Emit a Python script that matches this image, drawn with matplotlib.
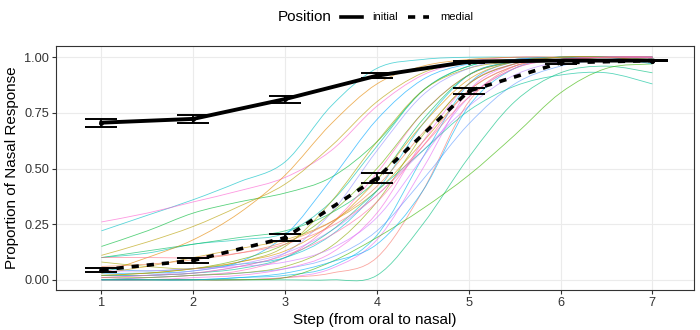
import numpy as np
import matplotlib
matplotlib.use("Agg")
import matplotlib.pyplot as plt
from matplotlib.lines import Line2D
from matplotlib.path import Path
from matplotlib.patches import PathPatch

plt.rcParams['font.family'] = ['Liberation Sans', 'DejaVu Sans']

# mean curves (with error bar half-widths)
steps = [1, 2, 3, 4, 5, 6, 7]
initial_mean = [0.706, 0.723, 0.812, 0.917, 0.980, 0.985, 0.985]
initial_err = [0.018, 0.017, 0.016, 0.011, 0.005, 0.004, 0.004]
medial_mean = [0.045, 0.087, 0.189, 0.457, 0.848, 0.975, 0.985]
medial_err = [0.008, 0.010, 0.016, 0.021, 0.015, 0.006, 0.004]

# individual fitted curves, read at half steps
grid = [1, 1.5, 2, 2.5, 3, 3.5, 4, 4.5, 5, 5.5, 6, 6.5, 7]
speakers = [
    [0.22, 0.29, 0.36, 0.44, 0.53, 0.78, 0.95, 0.99, 1.0, 1.0, 1.0, 1.0, 1.0],
    [0.26, 0.30, 0.35, 0.40, 0.46, 0.58, 0.78, 0.92, 0.98, 1.0, 1.0, 1.0, 1.0],
    [0.15, 0.22, 0.30, 0.35, 0.39, 0.46, 0.62, 0.85, 0.96, 0.99, 1.0, 1.0, 1.0],
    [0.11, 0.17, 0.24, 0.33, 0.43, 0.60, 0.80, 0.93, 0.98, 0.99, 1.0, 1.0, 1.0],
    [0.10, 0.12, 0.16, 0.18, 0.21, 0.35, 0.60, 0.85, 0.96, 0.99, 1.0, 1.0, 1.0],
    [0.10, 0.13, 0.16, 0.19, 0.22, 0.30, 0.45, 0.72, 0.92, 0.98, 0.99, 1.0, 1.0],
    [0.03, 0.10, 0.18, 0.30, 0.47, 0.70, 0.88, 0.96, 0.99, 1.0, 1.0, 1.0, 1.0],
    [0.08, 0.06, 0.05, 0.08, 0.15, 0.35, 0.62, 0.85, 0.95, 0.98, 0.99, 1.0, 1.0],
    [0.03, 0.03, 0.04, 0.08, 0.20, 0.45, 0.72, 0.90, 0.97, 0.99, 1.0, 1.0, 1.0],
    [0.02, 0.02, 0.03, 0.06, 0.12, 0.30, 0.58, 0.83, 0.95, 0.99, 1.0, 1.0, 1.0],
    [0.00, 0.01, 0.02, 0.04, 0.10, 0.25, 0.48, 0.75, 0.92, 0.98, 0.99, 1.0, 1.0],
    [0.05, 0.04, 0.05, 0.07, 0.10, 0.20, 0.40, 0.70, 0.92, 0.98, 1.0, 1.0, 1.0],
    [0.03, 0.06, 0.10, 0.14, 0.18, 0.26, 0.40, 0.62, 0.85, 0.96, 0.99, 1.0, 1.0],
    [0.02, 0.03, 0.05, 0.09, 0.16, 0.30, 0.50, 0.75, 0.92, 0.98, 1.0, 1.0, 1.0],
    [0.01, 0.02, 0.04, 0.07, 0.12, 0.22, 0.38, 0.58, 0.78, 0.92, 0.98, 0.99, 0.99],
    [0.06, 0.07, 0.09, 0.12, 0.17, 0.26, 0.42, 0.66, 0.88, 0.97, 0.99, 1.0, 1.0],
    [0.00, 0.00, 0.00, 0.01, 0.02, 0.06, 0.20, 0.55, 0.88, 0.98, 1.0, 1.0, 1.0],
    [0.00, 0.00, 0.00, 0.00, 0.01, 0.05, 0.18, 0.50, 0.85, 0.97, 1.0, 1.0, 1.0],
    [0.00, 0.00, 0.00, 0.00, 0.01, 0.03, 0.10, 0.40, 0.80, 0.96, 0.99, 1.0, 0.98],
    [0.00, 0.01, 0.02, 0.03, 0.05, 0.10, 0.22, 0.45, 0.70, 0.88, 0.96, 0.99, 0.99],
    [0.00, 0.00, 0.01, 0.02, 0.05, 0.12, 0.30, 0.62, 0.88, 0.97, 0.99, 1.0, 1.0],
    [0.01, 0.01, 0.02, 0.03, 0.06, 0.15, 0.35, 0.65, 0.88, 0.97, 1.0, 1.0, 0.99],
    [0.00, 0.00, 0.00, 0.00, 0.00, 0.00, 0.02, 0.25, 0.55, 0.80, 0.93, 0.96, 0.93],
    [0.00, 0.00, 0.00, 0.00, 0.01, 0.08, 0.19, 0.32, 0.47, 0.65, 0.84, 0.95, 0.97],
    [0.02, 0.02, 0.03, 0.05, 0.10, 0.22, 0.40, 0.58, 0.76, 0.87, 0.92, 0.93, 0.88],
    [0.00, 0.00, 0.00, 0.01, 0.03, 0.08, 0.16, 0.40, 0.78, 0.95, 0.99, 1.0, 0.97],
    [0.04, 0.04, 0.05, 0.06, 0.08, 0.14, 0.28, 0.55, 0.82, 0.95, 0.99, 1.0, 1.0],
    [0.02, 0.03, 0.05, 0.08, 0.13, 0.25, 0.45, 0.70, 0.90, 0.98, 1.0, 1.0, 0.98],
    [0.01, 0.02, 0.03, 0.06, 0.11, 0.20, 0.35, 0.60, 0.85, 0.96, 0.99, 1.0, 1.0],
    [0.10, 0.10, 0.10, 0.12, 0.16, 0.24, 0.38, 0.60, 0.82, 0.95, 0.99, 1.0, 1.0],
]

# which palette entry each speaker gets
colour_idx = [15, 26, 10, 5, 14, 11, 2, 6, 19, 21, 27, 16, 4, 8, 22,
              1, 17, 24, 0, 20, 25, 7, 12, 9, 13, 18, 23, 3, 28, 29]


def hue_pal(n, l=65, c=100):
    # ggplot2 default hue palette (polar Luv -> sRGB)
    hues = np.linspace(15, 375, n + 1)[:-1]
    xn, yn, zn = 95.047, 100.0, 108.883
    un = 4 * xn / (xn + 15 * yn + 3 * zn)
    vn = 9 * yn / (xn + 15 * yn + 3 * zn)
    m = np.array([[3.2406, -1.5372, -0.4986],
                  [-0.9689, 1.8758, 0.0415],
                  [0.0557, -0.2040, 1.0570]])
    out = []
    for h in hues:
        u = c * np.cos(np.radians(h))
        v = c * np.sin(np.radians(h))
        Y = yn * ((l + 16) / 116) ** 3
        up = u / (13 * l) + un
        vp = v / (13 * l) + vn
        X = 9 * Y * up / (4 * vp)
        Z = -X / 3 - 5 * Y + 3 * Y / vp
        rgb = m @ (np.array([X, Y, Z]) / 100)
        rgb = np.where(rgb <= 0.0031308, 12.92 * rgb,
                       1.055 * np.abs(rgb) ** (1 / 2.4) - 0.055)
        out.append(tuple(np.clip(rgb, 0, 1)))
    return out


def smooth_path(xs, ys):
    # Catmull-Rom through the read points, drawn as cubic Bezier segments
    p = np.column_stack([xs, ys]).astype(float)
    ext = np.vstack([p[0], p, p[-1]])
    verts = [p[0]]
    codes = [Path.MOVETO]
    for i in range(len(p) - 1):
        p0, p1, p2, p3 = ext[i], ext[i + 1], ext[i + 2], ext[i + 3]
        verts += [p1 + (p2 - p0) / 6, p2 - (p3 - p1) / 6, p2]
        codes += [Path.CURVE4] * 3
    return Path(verts, codes)


pal = hue_pal(len(speakers))

fig = plt.figure(figsize=(7, 3.3), dpi=100)
ax = fig.add_axes([0.08, 0.121, 0.911, 0.740])

for s, k in zip(speakers, colour_idx):
    ax.add_patch(PathPatch(smooth_path(grid, s), facecolor='none',
                           edgecolor=pal[k], lw=0.6, alpha=0.65, zorder=2))

ax.plot(steps, initial_mean, color='black', lw=2.8, zorder=4)
ax.plot(steps, medial_mean, color='black', lw=2.6, ls=(0, (2.0, 2.2)), zorder=4)
ax.errorbar(steps, initial_mean, yerr=initial_err, fmt='none', ecolor='black',
            elinewidth=1.3, capsize=11.5, capthick=1.4, zorder=5)
ax.errorbar(steps, medial_mean, yerr=medial_err, fmt='none', ecolor='black',
            elinewidth=1.3, capsize=11.5, capthick=1.4, zorder=5)
ax.scatter(steps, initial_mean, s=6, color='black', zorder=6)
ax.scatter(steps, medial_mean, s=6, color='black', zorder=6)

ax.set_xlim(0.505, 7.45)
ax.set_ylim(-0.046, 1.051)
ax.set_xticks(steps)
ax.set_yticks([0, 0.25, 0.5, 0.75, 1.0])
ax.set_yticklabels(['0.00', '0.25', '0.50', '0.75', '1.00'])
ax.grid(True, color='#EBEBEB', lw=0.8)
ax.set_axisbelow(True)
for sp in ax.spines.values():
    sp.set_color('#333333')
    sp.set_linewidth(0.8)
ax.tick_params(colors='#333333', labelcolor='#333333', labelsize=9.2,
               length=3, width=0.8, pad=2)

ax.set_xlabel('Step (from oral to nasal)', fontsize=11, labelpad=3)
ax.set_ylabel('Proportion of Nasal Response', fontsize=11, labelpad=4)

# legend drawn along the top, centred on the panel
ly = 0.947
fig.text(278 / 700, ly, 'Position', fontsize=11, va='center', ha='left')
fig.add_artist(Line2D([341 / 700, 362 / 700], [ly, ly], color='black', lw=2.6))
fig.text(372 / 700, ly, 'initial', fontsize=8, va='center', ha='left')
fig.add_artist(Line2D([408 / 700, 429 / 700], [ly, ly], color='black', lw=2.6,
                      ls=(0, (2.0, 2.2))))
fig.text(440 / 700, ly, 'medial', fontsize=8, va='center', ha='left')

fig.savefig('out.png', dpi=100)
